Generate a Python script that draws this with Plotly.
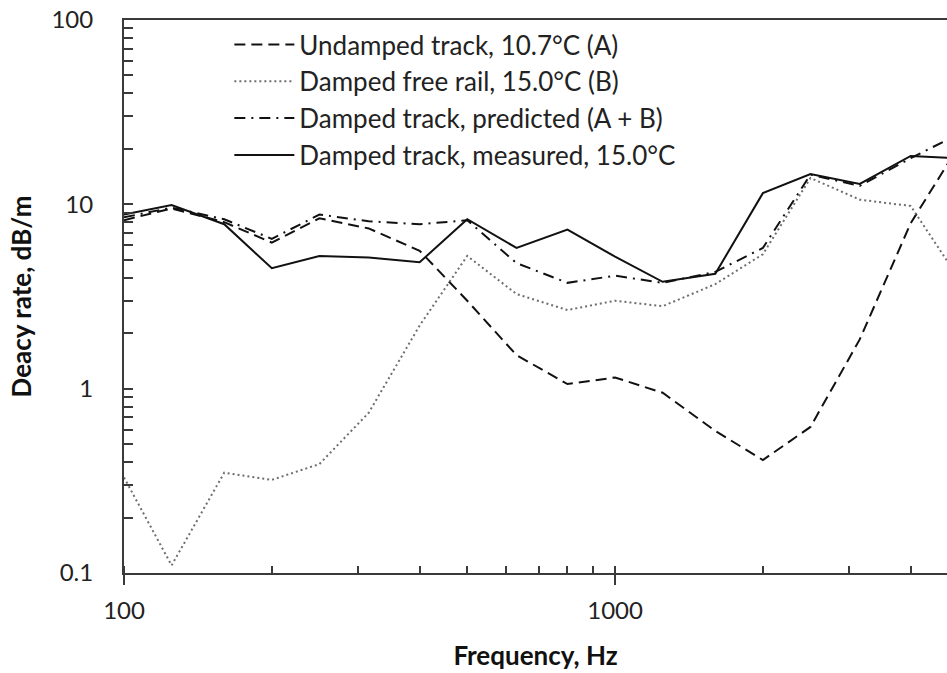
import plotly.graph_objects as go

freq = [100, 125, 160, 200, 250, 315, 400, 500, 630, 800, 1000, 1250, 1600, 2000, 2500, 3150, 4000, 5000]
undamped_A = [8.2, 9.5, 8.0, 6.2, 8.4, 7.4, 5.6, 3.0, 1.52, 1.06, 1.15, 0.95, 0.59, 0.41, 0.62, 1.85, 7.9, 20.5]
free_rail_B = [0.33, 0.11, 0.35, 0.32, 0.39, 0.74, 2.2, 5.25, 3.26, 2.67, 3.0, 2.8, 3.69, 5.36, 13.9, 10.6, 9.8, 4.0]
predicted_AB = [8.5, 9.6, 8.3, 6.5, 8.8, 8.1, 7.8, 8.2, 4.8, 3.75, 4.1, 3.75, 4.3, 5.8, 14.5, 12.6, 17.8, 24.0]
measured = [8.8, 9.9, 7.8, 4.5, 5.25, 5.15, 4.85, 8.3, 5.8, 7.3, 5.2, 3.8, 4.2, 11.5, 14.6, 12.9, 18.3, 17.8]

x_ticks = [100, 1000]
x_ticktext = ["100", "1000"]
y_ticks = [0.1, 1, 10, 100]
y_ticktext = ["0.1", "1", "10", "100"]

FONT = "Lato, 'Open Sans', sans-serif"

fig = go.Figure()
fig.add_trace(go.Scatter(x=freq, y=undamped_A, mode="lines", name="Undamped track, 10.7°C (A)",
                         line=dict(color="#111111", width=2, dash="11px,6px")))
fig.add_trace(go.Scatter(x=freq, y=free_rail_B, mode="lines", name="Damped free rail, 15.0°C (B)",
                         line=dict(color="#6e6e6e", width=2, dash="2px,3px")))
fig.add_trace(go.Scatter(x=freq, y=predicted_AB, mode="lines", name="Damped track, predicted (A + B)",
                         line=dict(color="#111111", width=2, dash="11px,6px,2px,6px")))
fig.add_trace(go.Scatter(x=freq, y=measured, mode="lines", name="Damped track, measured, 15.0°C",
                         line=dict(color="#111111", width=2)))

fig.update_layout(
    width=947, height=673,
    margin=dict(l=124, r=0, t=20, b=100),
    paper_bgcolor="white", plot_bgcolor="white",
    font=dict(family=FONT, size=24, color="#222222"),
    showlegend=True,
    legend=dict(x=0.128, y=0.998, xanchor="left", yanchor="top", bgcolor="rgba(0,0,0,0)",
                font=dict(size=26, family=FONT, color="#222222"), tracegroupgap=0,
                itemwidth=60),
)
fig.update_xaxes(
    type="log", range=[2, 3.676],
    tickvals=x_ticks, ticktext=x_ticktext,
    showgrid=False, zeroline=False,
    showline=True, linecolor="#3a3a3a", linewidth=2, mirror=True,
    ticks="outside", ticklen=10, tickwidth=2, tickcolor="#3a3a3a",
    minor=dict(dtick="D1", ticks="inside", ticklen=7, tickwidth=2, tickcolor="#3a3a3a", showgrid=False),
    tickfont=dict(size=24, family=FONT),
    ticklabelstandoff=5,
    title=dict(text="<b>Frequency, Hz</b>", font=dict(size=26, family=FONT, color="#111111"), standoff=24),
)
fig.update_yaxes(
    type="log", range=[-1, 2],
    tickvals=y_ticks, ticktext=y_ticktext,
    showgrid=False, zeroline=False,
    showline=True, linecolor="#3a3a3a", linewidth=2, mirror=False,
    ticks="inside", ticklen=9, tickwidth=2, tickcolor="#3a3a3a",
    minor=dict(dtick="D1", ticks="inside", ticklen=9, tickwidth=2, tickcolor="#3a3a3a", showgrid=False),
    tickfont=dict(size=24, family=FONT),
    ticklabelstandoff=24,
    title=dict(text="<b>Deacy rate, dB/m</b>", font=dict(size=26, family=FONT, color="#111111"), standoff=12),
)

fig.write_html("out.html")
